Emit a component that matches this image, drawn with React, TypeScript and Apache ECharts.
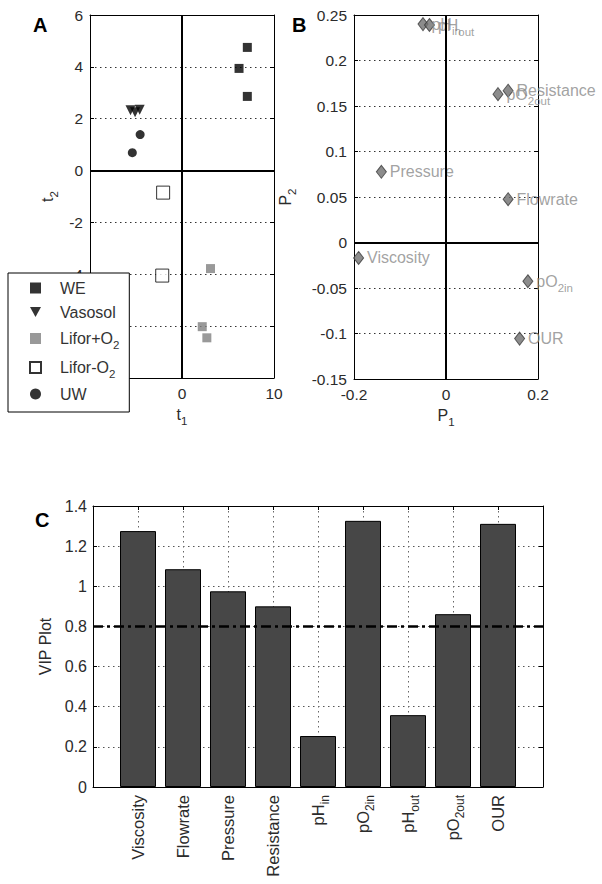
import React, { useEffect, useRef } from "react";
import * as echarts from "echarts";

const FONT = "'Liberation Sans', Arial, Helvetica, sans-serif";
const LABEL_COLOR = "#2b2b2b";

// ---------- Panel A: scores (t1, t2) ----------
const groupNames = ["WE", "Vasosol", "Lifor+O_2", "Lifor-O_2", "UW"];
const weScores = [[7.1, 4.75], [6.2, 3.94], [7.1, 2.86]];
const vasosolScores = [[-5.6, 2.33], [-5.1, 2.25], [-4.6, 2.35]];
const liforPlusScores = [[3.1, -3.78], [2.2, -6.02], [2.7, -6.45]];
const liforMinusScores = [[-2.05, -0.85], [-2.15, -4.05]];
const uwScores = [[-4.55, 1.39], [-5.4, 0.69]];
const t1Range = { min: -10, max: 10, interval: 10 };
const t2Range = { min: -8, max: 6, interval: 2 };

// ---------- Panel B: loadings (P1, P2) ----------
const loadingNames = ["Viscosity", "Flowrate", "Pressure", "Resistance", "pH_in", "pO_2in", "pH_out", "pO_2out", "OUR"];
const p1Values = [-0.19, 0.135, -0.1405, 0.135, -0.05, 0.178, -0.036, 0.113, 0.16];
const p2Values = [-0.017, 0.0476, 0.0777, 0.1668, 0.24, -0.0426, 0.239, 0.163, -0.1056];
const p1Range = { min: -0.2, max: 0.2, interval: 0.2 };
const p2Range = { min: -0.15, max: 0.25, interval: 0.05 };

// ---------- Panel C: VIP ----------
const vipCategories = ["Viscosity", "Flowrate", "Pressure", "Resistance", "pH_in", "pO_2in", "pH_out", "pO_2out", "OUR"];
const vipValues = [1.275, 1.085, 0.975, 0.9, 0.254, 1.326, 0.358, 0.861, 1.311];
const vipThreshold = 0.8;
const vipXRange = { min: 0, max: 10, interval: 1 };
const vipYRange = { min: 0, max: 1.4, interval: 0.2 };

const sub = (s: string) => s.replace(/_(\w+)$/, "{s|$1}");
const richSub = (size: number, color: string) => ({
  s: { fontSize: size, lineHeight: 25, verticalAlign: "bottom", color, fontFamily: FONT },
});

function mainAxis(gridIndex: number, range: any, position: string, extra: any = {}) {
  return {
    type: "value",
    gridIndex,
    position,
    ...range,
    axisLine: { show: true, onZero: false, lineStyle: { color: "#000", width: 1 } },
    axisTick: { show: true, inside: true, length: 4, lineStyle: { color: "#000" } },
    axisLabel: { show: true, color: LABEL_COLOR, fontSize: 15.5, margin: 7, fontFamily: FONT },
    splitLine: { show: true, lineStyle: { type: [1.5, 3.5], color: "#333", width: 1 } },
    ...extra,
  };
}
function mirrorAxis(gridIndex: number, range: any, position: string) {
  return {
    type: "value",
    gridIndex,
    position,
    ...range,
    axisLine: { show: true, onZero: false, lineStyle: { color: "#000", width: 1 } },
    axisTick: { show: true, inside: true, length: 4, lineStyle: { color: "#000" } },
    axisLabel: { show: false },
    splitLine: { show: false },
  };
}

const zeroLines = {
  silent: true,
  symbol: "none",
  label: { show: false },
  emphasis: { disabled: true },
  lineStyle: { color: "#000", width: 2, type: "solid" },
  data: [{ xAxis: 0 }, { yAxis: 0 }],
};

const nameStyle = (size: number) => ({
  fontSize: size,
  color: LABEL_COLOR,
  fontFamily: FONT,
  lineHeight: 20,
  rich: richSub(11.5, LABEL_COLOR),
});

export default function App() {
  const ref = useRef<HTMLDivElement>(null);
  useEffect(() => {
    if (!ref.current) return;
    const chart = echarts.init(ref.current, undefined, { renderer: "svg" });
    const scatterA = (name: string, data: number[][], symbol: string, size: number, itemStyle: any, extra: any = {}) => ({
      type: "scatter",
      name,
      xAxisIndex: 0,
      yAxisIndex: 0,
      data,
      symbol,
      symbolSize: size,
      itemStyle,
      z: 3,
      ...extra,
    });
    const legendIcons: Record<string, string> = {
      "WE": "rect",
      "Vasosol": "path://M0,0L10,0L5,9Z",
      "Lifor+O_2": "rect",
      "Lifor-O_2": "rect",
      "UW": "circle",
    };
    const option: any = {
      animation: false,
      backgroundColor: "#fff",
      textStyle: { fontFamily: FONT },
      grid: [
        { left: 90, top: 15, width: 184, height: 363 },
        { left: 354, top: 15, width: 184, height: 364 },
        { left: 93, top: 506, width: 450, height: 281 },
      ],
      xAxis: [
        mainAxis(0, t1Range, "bottom", { name: sub("t_1"), nameLocation: "middle", nameGap: 24, nameTextStyle: nameStyle(16) }),
        mirrorAxis(0, t1Range, "top"),
        mainAxis(1, p1Range, "bottom", { name: sub("P_1"), nameLocation: "middle", nameGap: 23, nameTextStyle: nameStyle(16) }),
        mirrorAxis(1, p1Range, "top"),
        mainAxis(2, vipXRange, "bottom", {
          axisLabel: {
            show: true,
            rotate: 90,
            margin: 8,
            color: LABEL_COLOR,
            fontSize: 16.5,
            lineHeight: 20,
            fontFamily: FONT,
            rich: richSub(12, LABEL_COLOR),
            formatter: (v: number) => {
              const i = Math.round(v) - 1;
              return i >= 0 && i < vipCategories.length ? sub(vipCategories[i]) : "";
            },
          },
          splitLine: { show: true, lineStyle: { type: [1.5, 3.5], color: "#666", width: 1 } },
        }),
        mirrorAxis(2, vipXRange, "top"),
      ],
      yAxis: [
        mainAxis(0, t2Range, "left", { name: sub("t_2"), nameLocation: "middle", nameRotate: 90, nameGap: 30, nameTextStyle: nameStyle(16) }),
        mirrorAxis(0, t2Range, "right"),
        mainAxis(1, p2Range, "left", { name: sub("P_2"), nameLocation: "middle", nameRotate: 90, nameGap: 56, nameTextStyle: nameStyle(16) }),
        mirrorAxis(1, p2Range, "right"),
        mainAxis(2, vipYRange, "left", {
          name: "VIP Plot",
          nameLocation: "middle",
          nameRotate: 90,
          nameGap: 32,
          nameTextStyle: { fontSize: 16, color: LABEL_COLOR, fontFamily: FONT },
          axisLabel: { show: true, color: LABEL_COLOR, fontSize: 16, margin: 6, fontFamily: FONT },
          splitLine: { show: true, lineStyle: { type: [1.5, 3.5], color: "#555", width: 1 } },
        }),
        mirrorAxis(2, vipYRange, "right"),
      ],
      legend: {
        data: groupNames.map((n) => ({ name: n, icon: legendIcons[n] })),
        orient: "vertical",
        left: 8,
        top: 273,
        backgroundColor: "#fff",
        borderColor: "#000",
        borderWidth: 1,
        borderRadius: 0,
        padding: [5, 10, 8, 21],
        itemGap: 4,
        itemWidth: 11,
        itemHeight: 11,
        selectedMode: false,
        z: 10,
        formatter: (n: string) => "{g|}" + sub(n),
        textStyle: {
          fontSize: 16,
          color: "#333",
          fontFamily: FONT,
          lineHeight: 20,
          rich: { ...richSub(11.5, "#333"), g: { width: 14, lineHeight: 20 } },
        },
      },
      graphic: [
        { type: "text", x: 33, y: 15, style: { text: "A", fontSize: 20, fontWeight: "bold", fontFamily: FONT, fill: "#000", align: "left", verticalAlign: "top" } },
        { type: "text", x: 292, y: 15, style: { text: "B", fontSize: 20, fontWeight: "bold", fontFamily: FONT, fill: "#000", align: "left", verticalAlign: "top" } },
        { type: "text", x: 35, y: 510, style: { text: "C", fontSize: 20, fontWeight: "bold", fontFamily: FONT, fill: "#000", align: "left", verticalAlign: "top" } },
      ],
      series: [
        scatterA(groupNames[0], weScores, "rect", 9, { color: "#000" }, { markLine: zeroLines }),
        scatterA(groupNames[1], vasosolScores, "triangle", 10, { color: "#000" }, { symbolRotate: 180 }),
        scatterA(groupNames[2], liforPlusScores, "rect", 9, { color: "#808080" }),
        scatterA(groupNames[3], liforMinusScores, "rect", 13, { color: "#fff", borderColor: "#000", borderWidth: 1 }),
        scatterA(groupNames[4], uwScores, "circle", 9, { color: "#000" }),
        {
          type: "scatter",
          name: "Loadings",
          xAxisIndex: 2,
          yAxisIndex: 2,
          symbol: "diamond",
          symbolSize: [10, 13],
          itemStyle: { color: "#6f6f6f", borderColor: "#3a3a3a", borderWidth: 1 },
          data: loadingNames.map((n, i) => ({ name: n, value: [p1Values[i], p2Values[i]] })),
          label: {
            show: true,
            position: "right",
            distance: 3,
            color: "#8a8a8a",
            fontSize: 16,
            lineHeight: 20,
            fontFamily: FONT,
            rich: richSub(11.5, "#8a8a8a"),
            formatter: (p: any) => sub(p.name),
          },
          markLine: zeroLines,
          z: 3,
        },
        {
          type: "bar",
          name: "VIP",
          xAxisIndex: 4,
          yAxisIndex: 4,
          barWidth: 36,
          data: vipValues.map((v, i) => [i + 1, v]),
          itemStyle: { color: "#474747", borderColor: "#000", borderWidth: 1 },
          markLine: {
            silent: true,
            symbol: "none",
            label: { show: false },
            emphasis: { disabled: true },
            lineStyle: { color: "#000", width: 2.5, type: [10, 4, 3, 4] },
            data: [{ yAxis: vipThreshold }],
          },
          z: 3,
        },
      ],
    };
    chart.setOption(option);
    return () => chart.dispose();
  }, []);
  return <div ref={ref} style={{ position: "absolute", left: 0, top: 0, width: 602, height: 884 }} />;
}
